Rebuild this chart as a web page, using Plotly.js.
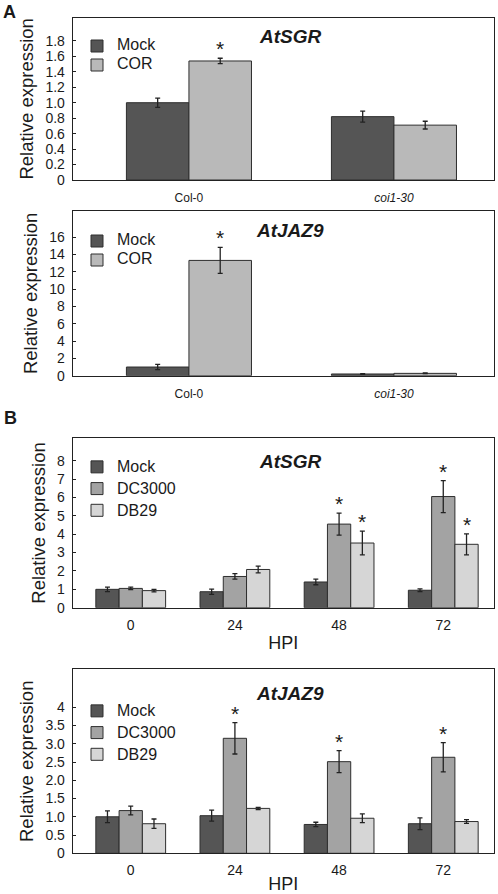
<!DOCTYPE html>
<html>
<head>
<meta charset="utf-8">
<script src="https://cdn.plot.ly/plotly-3.0.1.min.js"></script>
<style>html,body{margin:0;padding:0;background:#fff;}#chart{width:498px;height:894px;}</style>
</head>
<body>
<div id="chart"></div>
<script>
// ---------- DATA ----------
var catsA = ['Col-0', 'coi1-30'];
var catsAText = ['Col-0', '<i>coi1-30</i>'];
var seriesA = ['Mock', 'COR'];

var sgrA_mock = [1.0, 0.82];
var sgrA_mock_err = [0.06, 0.07];
var sgrA_cor = [1.54, 0.71];
var sgrA_cor_err = [0.035, 0.05];
var sgrA_cor_sig = [true, false];

var jazA_mock = [1.0, 0.2];
var jazA_mock_err = [0.3, 0.03];
var jazA_cor = [13.3, 0.27];
var jazA_cor_err = [1.5, 0.04];
var jazA_cor_sig = [true, false];

var catsB = ['0', '24', '48', '72'];
var seriesB = ['Mock', 'DC3000', 'DB29'];

var sgrB_mock = [1.0, 0.87, 1.4, 0.95];
var sgrB_mock_err = [0.12, 0.14, 0.15, 0.07];
var sgrB_dc = [1.05, 1.7, 4.55, 6.05];
var sgrB_dc_err = [0.07, 0.15, 0.6, 0.87];
var sgrB_db = [0.93, 2.08, 3.52, 3.45];
var sgrB_db_err = [0.07, 0.18, 0.65, 0.57];
var sgrB_dc_sig = [false, false, true, true];
var sgrB_db_sig = [false, false, true, true];

var jazB_mock = [1.0, 1.03, 0.79, 0.81];
var jazB_mock_err = [0.16, 0.15, 0.06, 0.16];
var jazB_dc = [1.17, 3.15, 2.51, 2.63];
var jazB_dc_err = [0.12, 0.43, 0.3, 0.4];
var jazB_db = [0.81, 1.23, 0.96, 0.87];
var jazB_db_err = [0.13, 0.03, 0.12, 0.05];
var jazB_dc_sig = [false, true, true, true];

var ytA1 = [0, 0.2, 0.4, 0.6, 0.8, 1.0, 1.2, 1.4, 1.6, 1.8];
var ytA1Text = ['0', '0.2', '0.4', '0.6', '0.8', '1.0', '1.2', '1.4', '1.6', '1.8'];
var ytA2 = [0, 2, 4, 6, 8, 10, 12, 14, 16];
var ytA2Text = ['0', '2', '4', '6', '8', '10', '12', '14', '16'];
var ytB1 = [0, 1, 2, 3, 4, 5, 6, 7, 8];
var ytB1Text = ['0', '1', '2', '3', '4', '5', '6', '7', '8'];
var ytB2 = [0, 0.5, 1, 1.5, 2, 2.5, 3, 3.5, 4];
var ytB2Text = ['0', '0.5', '1.0', '1.5', '2.0', '2.5', '3.0', '3.5', '4'];

// ---------- STYLE ----------
var FONT = 'Liberation Sans, Arial, sans-serif';
var TXT = '#1a1a1a';
var C_MOCK = '#555555';
var C_COR = '#b9b9b9';
var C_DC = '#a3a3a3';
var C_DB = '#d6d6d6';
var EDGE = '#2e2e2e';

var wA = 0.305, wB = 0.2233;

function legName(n) { return '<span style="font-size:16px">' + n + '</span>'; }

function barTrace(x, y, err, name, color, xa, ya, w, off, legend) {
  return {
    type: 'bar', x: x, y: y, name: legName(name), xaxis: xa, yaxis: ya,
    width: w, offset: off, legend: legend, showlegend: true,
    marker: {color: color, line: {color: EDGE, width: 1}},
    error_y: {type: 'data', array: err, visible: true, color: '#222', thickness: 1.3, width: 2.5},
    hoverinfo: 'skip'
  };
}

var data = [
  barTrace(catsA, sgrA_mock, sgrA_mock_err, seriesA[0], C_MOCK, 'x', 'y', wA, -wA, 'legend'),
  barTrace(catsA, sgrA_cor, sgrA_cor_err, seriesA[1], C_COR, 'x', 'y', wA, 0, 'legend'),
  barTrace(catsA, jazA_mock, jazA_mock_err, seriesA[0], C_MOCK, 'x2', 'y2', wA, -wA, 'legend2'),
  barTrace(catsA, jazA_cor, jazA_cor_err, seriesA[1], C_COR, 'x2', 'y2', wA, 0, 'legend2'),
  barTrace(catsB, sgrB_mock, sgrB_mock_err, seriesB[0], C_MOCK, 'x3', 'y3', wB, -1.5 * wB, 'legend3'),
  barTrace(catsB, sgrB_dc, sgrB_dc_err, seriesB[1], C_DC, 'x3', 'y3', wB, -0.5 * wB, 'legend3'),
  barTrace(catsB, sgrB_db, sgrB_db_err, seriesB[2], C_DB, 'x3', 'y3', wB, 0.5 * wB, 'legend3'),
  barTrace(catsB, jazB_mock, jazB_mock_err, seriesB[0], C_MOCK, 'x4', 'y4', wB, -1.5 * wB, 'legend4'),
  barTrace(catsB, jazB_dc, jazB_dc_err, seriesB[1], C_DC, 'x4', 'y4', wB, -0.5 * wB, 'legend4'),
  barTrace(catsB, jazB_db, jazB_db_err, seriesB[2], C_DB, 'x4', 'y4', wB, 0.5 * wB, 'legend4')
];

// star annotations
var annotations = [];
function stars(sig, vals, errs, xa, ya, center) {
  sig.forEach(function (s, i) {
    if (!s) return;
    annotations.push({
      xref: xa, yref: ya, x: i + center, y: vals[i] + errs[i],
      text: '*', showarrow: false, yanchor: 'bottom', yshift: -4,
      font: {family: FONT, size: 21, color: TXT}
    });
  });
}
stars(sgrA_cor_sig, sgrA_cor, sgrA_cor_err, 'x', 'y', wA / 2);
stars(jazA_cor_sig, jazA_cor, jazA_cor_err, 'x2', 'y2', wA / 2);
stars(sgrB_dc_sig, sgrB_dc, sgrB_dc_err, 'x3', 'y3', 0);
stars(sgrB_db_sig, sgrB_db, sgrB_db_err, 'x3', 'y3', wB);
stars(jazB_dc_sig, jazB_dc, jazB_dc_err, 'x4', 'y4', 0);

// titles & panel letters
function title(text, yPaper) {
  annotations.push({xref: 'paper', yref: 'paper', x: 290 / 498, y: yPaper, text: '<b><i>' + text + '</i></b>',
    showarrow: false, xanchor: 'center', yanchor: 'middle', font: {family: FONT, size: 19, color: TXT}});
}
title('AtSGR', 1 - 36.7 / 894);
title('AtJAZ9', 1 - 230.7 / 894);
title('AtSGR', 1 - 461.7 / 894);
title('AtJAZ9', 1 - 693.3 / 894);
annotations.push({xref: 'paper', yref: 'paper', x: 1 / 498, y: 1 - 12 / 894, text: '<b>A</b>', showarrow: false,
  xanchor: 'left', yanchor: 'middle', font: {family: FONT, size: 18, color: TXT}});
annotations.push({xref: 'paper', yref: 'paper', x: 2 / 498, y: 1 - 418 / 894, text: '<b>B</b>', showarrow: false,
  xanchor: 'left', yanchor: 'middle', font: {family: FONT, size: 18, color: TXT}});

var xDom = [72.7 / 498, 494 / 498];
function dom(top, bottom) { return [1 - bottom / 894, 1 - top / 894]; }

function xaxis(anchor, cats, text, range, fsize, standoff, titleText) {
  var a = {
    domain: xDom, anchor: anchor, type: 'category', range: range,
    tickvals: cats, ticktext: text, ticks: '', showline: true, mirror: true,
    linecolor: '#222', linewidth: 1, showgrid: false, zeroline: false,
    ticklabelstandoff: standoff,
    tickfont: {family: FONT, size: fsize, color: TXT}, fixedrange: true
  };
  if (titleText) a.title = {text: titleText, font: {family: FONT, size: 18, color: TXT}, standoff: 4};
  return a;
}
function yaxis(anchor, d, range, tv, tt) {
  return {
    domain: d, anchor: anchor, range: range, tickvals: tv, ticktext: tt,
    ticks: 'inside', ticklen: 3, tickcolor: '#222', showline: true, mirror: true,
    linecolor: '#222', linewidth: 1, showgrid: false, zeroline: false,
    tickfont: {family: FONT, size: 14, color: TXT}, ticklabelstandoff: 4,
    title: {text: 'Relative expression', font: {family: FONT, size: 18.5, color: TXT}, standoff: 6},
    fixedrange: true
  };
}

function legend(xPx, topPx, fs) {
  return {
    x: xPx / 498, y: 1 - topPx / 894, xanchor: 'left', yanchor: 'top',
    bgcolor: 'rgba(0,0,0,0)', borderwidth: 0, itemwidth: 30, tracegroupgap: 0,
    font: {family: FONT, size: fs, color: TXT}, traceorder: 'normal'
  };
}

var layout = {
  width: 498, height: 894,
  margin: {l: 0, r: 0, t: 0, b: 0},
  paper_bgcolor: '#fff', plot_bgcolor: '#fff',
  barmode: 'group',
  showlegend: true,
  font: {family: FONT, color: TXT},
  xaxis: xaxis('y', catsA, catsAText, [-0.567, 1.488], 12, 7),
  yaxis: yaxis('x', dom(17.7, 180), [0, 2.1], ytA1, ytA1Text),
  xaxis2: xaxis('y2', catsA, catsAText, [-0.567, 1.488], 12, 7),
  yaxis2: yaxis('x2', dom(211, 375.7), [0, 19], ytA2, ytA2Text),
  xaxis3: xaxis('y3', catsB, catsB, [-0.557, 3.487], 14, 4, 'HPI'),
  yaxis3: yaxis('x3', dom(438.3, 607.7), [0, 9.22], ytB1, ytB1Text),
  xaxis4: xaxis('y4', catsB, catsB, [-0.557, 3.487], 14, 4, 'HPI'),
  yaxis4: yaxis('x4', dom(669.3, 853.3), [0, 5.04], ytB2, ytB2Text),
  legend: legend(77, 31.5, 11),
  legend2: legend(77, 226.5, 11),
  legend3: legend(77, 451, 14.4),
  legend4: legend(77, 695, 14.4),
  annotations: annotations
};

Plotly.newPlot('chart', data, layout, {displayModeBar: false, staticPlot: true});
</script>
</body>
</html>
